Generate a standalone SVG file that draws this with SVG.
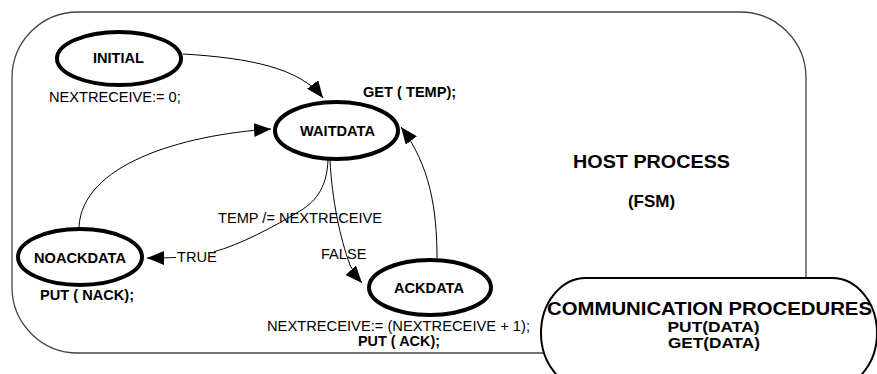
<svg xmlns="http://www.w3.org/2000/svg" width="877" height="374" viewBox="0 0 877 374">
<style>
.st{fill:#fff;stroke:#000;stroke-width:4}
.ln{fill:none;stroke:#000;stroke-width:1}
.t{font-family:"Liberation Sans",Arial,sans-serif;font-size:14.6px;fill:#000}
.b{font-family:"Liberation Sans",Arial,sans-serif;font-size:14.6px;font-weight:bold;fill:#000}
.c{text-anchor:middle}
</style>
<defs>
<marker id="ah" markerUnits="userSpaceOnUse" markerWidth="18" markerHeight="15" refX="17" refY="7" orient="auto">
<path d="M0,0 L17,7 L0,14 Z" fill="#000"/>
</marker>
</defs>
<rect width="877" height="374" fill="#fff"/>
<g id="host-process">
<rect x="12" y="12" width="794" height="341" rx="66" ry="66" fill="none" stroke="#444" stroke-width="1.3"/>
<text class="b c" x="651.5" y="168" style="font-size:18.5px" textLength="157" lengthAdjust="spacingAndGlyphs">HOST PROCESS</text>
<text class="b c" x="651.5" y="207" style="font-size:17px">(FSM)</text>
</g>
<g id="connectors">
<path class="ln" d="M183,54 C250,58 300,68 323,98" marker-end="url(#ah)"/>
<path class="ln" d="M79,227 C82,165 180,135 271,129" marker-end="url(#ah)"/>
<path class="ln" d="M328,160 C327,185 318,200 300,211 C275,226 240,245 213,252 C200,256 185,258 147,258" marker-end="url(#ah)"/>
<path class="ln" d="M330,160 C332,200 340,238 350,265 Q354,274 362,283" marker-end="url(#ah)"/>
<path class="ln" d="M437,258 C437,210 430,165 401,127" marker-end="url(#ah)"/>
<rect x="176" y="249" width="38" height="15" fill="#fff"/>
<text class="t" x="177" y="262">TRUE</text>
<text class="t" x="218" y="223">TEMP /= NEXTRECEIVE</text>
<text class="t" x="321" y="259">FALSE</text>
</g>
<g id="initial">
<ellipse class="st" cx="119" cy="58.5" rx="62" ry="26.5"/>
<text class="b c" x="118.5" y="63">INITIAL</text>
<text class="t" x="49" y="102">NEXTRECEIVE:= 0;</text>
</g>
<g id="waitdata">
<ellipse class="st" cx="336.5" cy="130.5" rx="61.5" ry="28.5"/>
<text class="b c" x="337.5" y="136">WAITDATA</text>
<text class="b" x="363" y="97">GET ( TEMP);</text>
</g>
<g id="noackdata">
<ellipse class="st" cx="80" cy="257" rx="62" ry="28"/>
<text class="b c" x="80" y="263">NOACKDATA</text>
<text class="b" x="40" y="300">PUT ( NACK);</text>
</g>
<g id="ackdata">
<ellipse class="st" cx="430" cy="287.5" rx="61" ry="27.5"/>
<text class="b c" x="429" y="293">ACKDATA</text>
<text class="t" x="267" y="331" style="font-size:14px" textLength="263" lengthAdjust="spacingAndGlyphs">NEXTRECEIVE:= (NEXTRECEIVE + 1);</text>
<text class="b" x="358" y="346" style="font-size:14px" textLength="82" lengthAdjust="spacingAndGlyphs">PUT ( ACK);</text>
</g>
<g id="communication-procedures">
<path d="M586,278 L832,278 A45,55 0 0 1 832,388 L586,388 A45,55 0 0 1 586,278 Z" fill="#fff" stroke="#000" stroke-width="2"/>
<text class="b c" x="709.5" y="315" style="font-size:18.5px" textLength="325" lengthAdjust="spacingAndGlyphs">COMMUNICATION PROCEDURES</text>
<text class="b c" x="713.5" y="331.5" style="font-size:14px" textLength="92" lengthAdjust="spacingAndGlyphs">PUT(DATA)</text>
<text class="b c" x="714" y="347.5" style="font-size:14px" textLength="92" lengthAdjust="spacingAndGlyphs">GET(DATA)</text>
</g>
</svg>
